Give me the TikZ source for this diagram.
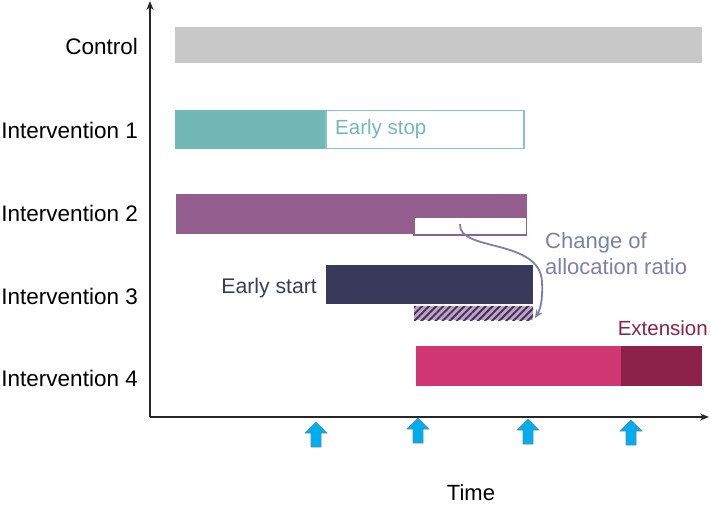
\documentclass[tikz,border=0pt]{standalone}
\usepackage{fontspec}
\setmainfont{Liberation Sans}
\usetikzlibrary{patterns.meta,arrows.meta}
\definecolor{cgray}{HTML}{C8C8C8}
\definecolor{cteal}{HTML}{72B8B6}
\definecolor{cpurple}{HTML}{935E8D}
\definecolor{cnavy}{HTML}{39395C}
\definecolor{cpink}{HTML}{D13772}
\definecolor{cdark}{HTML}{8C2249}
\definecolor{chatch}{HTML}{C9A0C5}
\definecolor{carrow}{HTML}{7B7FAB}
\definecolor{cblue}{HTML}{00AEEF}
\tikzset{
  lbl/.style={anchor=east,font=\fontsize{22.5}{26}\selectfont,text=black,inner sep=0pt},
  txt/.style={font=\fontsize{20.5}{26}\selectfont,inner sep=0pt},
  axis/.style={line width=1.8pt,draw=black!85},
  pics/uparrow/.style={code={
    \fill[cblue,draw=gray!70!cblue,line width=0.6pt]
      (-5,0) -- (-5,-14) -- (-11,-14) -- (0,-25) -- (11,-14) -- (5,-14) -- (5,0) -- cycle;}}
}
\begin{document}
\begin{tikzpicture}[x=1pt,y=-1pt]
\useasboundingbox (0,0) rectangle (710,509);
% axes
\coordinate (o) at (150,417);
\coordinate (ytop) at (150,1);
\coordinate (xend) at (709,417);
\draw[axis,-{Stealth[length=9pt,width=7pt]}] (o) -- (ytop);
\draw[axis,-{Stealth[length=9pt,width=7pt]}] (o) -- (xend);
% labels
\node[lbl] (lc) at (138,46) {Control};
\node[lbl] (l1) at (138,130) {Intervention 1};
\node[lbl] (l2) at (138,213) {Intervention 2};
\node[lbl] (l3) at (138,296) {Intervention 3};
\node[lbl] (l4) at (138,378) {Intervention 4};
% Control
\fill[cgray] (175,27) rectangle (702,63);
% Intervention 1
\fill[cteal] (175,110) rectangle (326,149);
\draw[cteal!85!white,line width=1.4pt] (326,110.7) rectangle (524,148.3);
\node[txt,anchor=west,text=cteal] (es) at (335,129) {Early stop};
% Intervention 2
\fill[cpurple] (176,194) rectangle (527,234);
\draw[cpurple,fill=white,line width=1.4pt] (414,217.7) rectangle (526.3,235);
\coordinate (cstart) at (460,224);
% Intervention 3
\fill[cnavy] (326,265) rectangle (533,304);
\fill[chatch] (414,306) rectangle (533,320);
\fill[pattern={Lines[angle=45,distance=5pt,line width=2pt]},pattern color=cnavy] (414,306) rectangle (533,320);
\node[txt,anchor=east,text=cnavy,font=\fontsize{21.2}{26}\selectfont] (est) at (317,288) {Early start};
\coordinate (cend) at (535,318);
% Intervention 4
\fill[cpink] (416,346) rectangle (621,386);
\fill[cdark] (621,346) rectangle (702,386);
\node[txt,anchor=east,text=cdark] (ext) at (708,328) {Extension};
% change of allocation ratio
\node[txt,anchor=west,align=left,text=carrow,font=\fontsize{22}{26}\selectfont] (car) at (545,254) {Change of\\allocation ratio};
\draw[carrow,line width=1.8pt,-{Stealth[length=8pt,width=7pt]}]
  (cstart) .. controls (458,252) and (540,238) .. (542,282) .. controls (543,300) and (540,310) .. (cend);
% time
\node[txt,text=black,font=\fontsize{22}{26}\selectfont] (time) at (471,493) {Time};
% blue arrows
\pic (a1) at (316,447) {uparrow};
\pic (a2) at (418,443) {uparrow};
\pic (a3) at (528,444) {uparrow};
\pic (a4) at (631,445) {uparrow};
\end{tikzpicture}
\end{document}
